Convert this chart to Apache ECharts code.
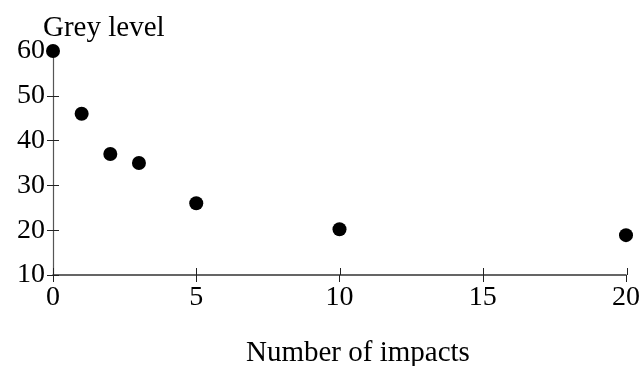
<!DOCTYPE html>
<html><head><meta charset="utf-8">
<script src="https://cdn.jsdelivr.net/npm/echarts@6/dist/echarts.min.js"></script>
<style>html,body{margin:0;padding:0;background:#fff}#c{width:643px;height:366px}</style>
</head><body><div id="c"></div>
<script>
var impacts = [0, 1, 2, 3, 5, 10, 20];
var greyLevel = [60, 46, 37, 35, 26, 20.2, 18.9];
var xTicks = {min: 0, max: 20, interval: 5};
var yTicks = {min: 10, max: 60, interval: 10};
var yTitle = 'Grey level';
var xTitle = 'Number of impacts';

var font = 'Liberation Serif, Times New Roman, serif';
var chart = echarts.init(document.getElementById('c'), null, {renderer: 'canvas'});
var pts = impacts.map(function (x, i) { return [x, greyLevel[i]]; });
function xAx(main) {
  return {
    type: 'value', gridIndex: main ? 0 : 1, min: xTicks.min, max: xTicks.max, interval: xTicks.interval,
    position: 'bottom', splitLine: {show: false},
    axisLine: {show: main, onZero: false, lineStyle: {color: '#333', width: 1.5}},
    axisTick: {show: true, inside: !main, length: 7, lineStyle: {color: '#222', width: 1}},
    axisLabel: {show: main, color: '#000', fontFamily: font, fontSize: 28, margin: 9}
  };
}
function yAx(main) {
  return {
    type: 'value', gridIndex: main ? 0 : 1, min: yTicks.min, max: yTicks.max, interval: yTicks.interval,
    position: 'left', splitLine: {show: false},
    axisLine: {show: main, onZero: false, lineStyle: {color: '#555', width: 1.2}},
    axisTick: {show: true, inside: !main, length: 6, lineStyle: {color: '#222', width: 1}},
    axisLabel: {show: main, color: '#000', fontFamily: font, fontSize: 28, margin: 8}
  };
}
var g = {left: 53, right: 16, top: 51, bottom: 91};
chart.setOption({
  animation: false,
  backgroundColor: '#fff',
  title: [
    {text: yTitle, left: 38, top: 9, textStyle: {fontFamily: font, fontSize: 29, fontWeight: 'normal', color: '#000'}},
    {text: xTitle, left: 241, top: 334, textStyle: {fontFamily: font, fontSize: 29, fontWeight: 'normal', color: '#000'}}
  ],
  grid: [g, Object.assign({}, g)],
  xAxis: [xAx(true), xAx(false)],
  yAxis: [yAx(true), yAx(false)],
  series: [{
    type: 'scatter', data: pts, symbol: 'circle', symbolSize: 14,
    itemStyle: {color: '#000', opacity: 1}, clip: false, xAxisIndex: 0, yAxisIndex: 0, z: 5
  }]
});
</script></body></html>
